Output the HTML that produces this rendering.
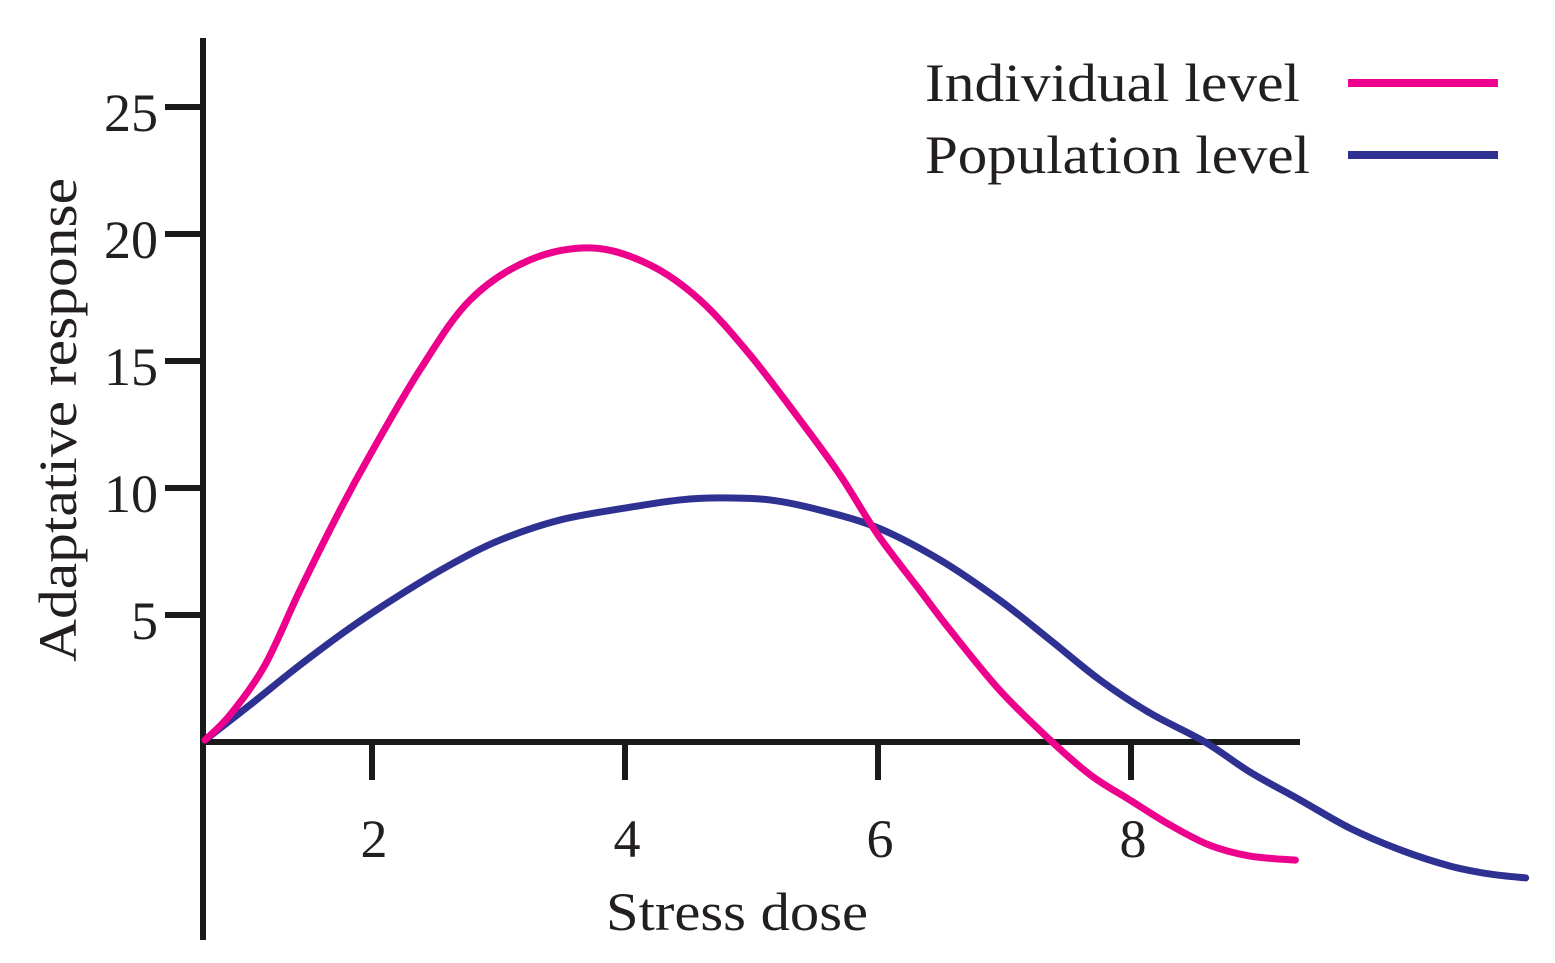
<!DOCTYPE html>
<html><head><meta charset="utf-8"><style>
html,body{margin:0;padding:0;background:#fff;}
svg{display:block;font-family:"Liberation Serif",serif;}
</style></head><body>
<svg id="chart" width="1555" height="963" viewBox="0 0 1555 963">
<g id="axes"></g><g id="series"></g><g id="legend"></g>
</svg>
<script>
const xTicks=[2,4,6,8];
const yTicks=[5,10,15,20,25];
const individualX=[0.68,0.877,1.154,1.431,1.747,1.984,2.379,2.775,3.249,3.747,4.198,4.593,4.988,5.383,5.70,6.0,6.33,6.57,6.96,7.36,7.68,7.99,8.31,8.62,8.94,9.30];
const individualY=[0.08,1.06,3.03,5.98,9.13,11.3,14.65,17.4,18.98,19.45,18.78,17.4,15.24,12.68,10.51,8.15,5.98,4.41,2.05,0.08,-1.3,-2.28,-3.27,-4.06,-4.49,-4.65];
const populationX=[0.68,1.036,1.431,1.826,2.221,2.617,3.012,3.486,4.0,4.435,4.751,5.146,5.542,6.0,6.49,6.96,7.36,7.755,8.15,8.585,8.94,9.336,9.73,10.13,10.52,10.84,11.12];
const populationY=[0.08,1.46,3.03,4.49,5.79,6.97,7.95,8.74,9.21,9.53,9.61,9.53,9.13,8.43,7.17,5.59,4.02,2.44,1.14,0,-1.18,-2.28,-3.39,-4.25,-4.88,-5.2,-5.35];
const seriesNames=["Individual level","Population level"];

const NS="http://www.w3.org/2000/svg";
const sx=v=>119+126.5*v, sy=v=>742-25.4*v;
function mk(tag,attrs,parent,text){const e=document.createElementNS(NS,tag);for(const k in attrs)e.setAttribute(k,attrs[k]);if(text!==undefined)e.textContent=text;parent.appendChild(e);return e;}
const axes=document.getElementById('axes'),series=document.getElementById('series'),legend=document.getElementById('legend');

let e=mk('line',{x1:203,y1:38,x2:203,y2:940,stroke:'#1a1a1a','stroke-width':6},axes);


e=mk('line',{x1:200,y1:742,x2:1300,y2:742,stroke:'#1a1a1a','stroke-width':6},axes);


yTicks.forEach(v=>{
 let t=mk('line',{x1:165,y1:sy(v),x2:203,y2:sy(v),stroke:'#1a1a1a','stroke-width':6},axes);
 
 
 let l=mk('text',{x:158,y:sy(v)+24,'text-anchor':'end','font-size':54,fill:'#231f20'},axes,String(v));
 
 
});
xTicks.forEach(v=>{
 let t=mk('line',{x1:sx(v),y1:742,x2:sx(v),y2:780,stroke:'#1a1a1a','stroke-width':6},axes);
 
 
 let l=mk('text',{x:sx(v)+2,y:857,'text-anchor':'middle','font-size':54,fill:'#231f20'},axes,String(v));
 
 
});
e=mk('text',{x:606,y:930,'font-size':54,fill:'#231f20',textLength:262,lengthAdjust:'spacingAndGlyphs'},axes,'Stress dose');


e=mk('text',{x:-662,y:76,'font-size':54,fill:'#231f20',textLength:484,lengthAdjust:'spacingAndGlyphs',transform:'rotate(-90)'},axes,'Adaptative response');



function smooth(xs,ys){
 const p=xs.map((x,i)=>[sx(x),sy(ys[i])]);
 let d=`M${p[0][0]},${p[0][1]}`;
 for(let i=0;i<p.length-1;i++){
  const p0=p[i-1]||p[i],p1=p[i],p2=p[i+1],p3=p[i+2]||p2;
  const c1=[p1[0]+(p2[0]-p0[0])/6,p1[1]+(p2[1]-p0[1])/6];
  const c2=[p2[0]-(p3[0]-p1[0])/6,p2[1]-(p3[1]-p1[1])/6];
  d+=` C${c1[0]},${c1[1]} ${c2[0]},${c2[1]} ${p2[0]},${p2[1]}`;
 }
 return d;
}
e=mk('path',{d:smooth(populationX,populationY),fill:'none',stroke:'#2e3192','stroke-width':7,'stroke-linecap':'round','stroke-linejoin':'round'},series);


e=mk('path',{d:smooth(individualX,individualY),fill:'none',stroke:'#ec008c','stroke-width':7,'stroke-linecap':'round','stroke-linejoin':'round'},series);



const colors=['#ec008c','#2e3192'];
const legendLens=[375,385];
seriesNames.forEach((n,i)=>{
 const y=83+72*i;
 let t=mk('text',{x:925,y:y+18,'font-size':54,fill:'#231f20',textLength:legendLens[i],lengthAdjust:'spacingAndGlyphs'},legend,n);
 
 
 let l=mk('line',{x1:1348,y1:y,x2:1498,y2:y,stroke:colors[i],'stroke-width':8},legend);
 
 
});
</script>
</body></html>
